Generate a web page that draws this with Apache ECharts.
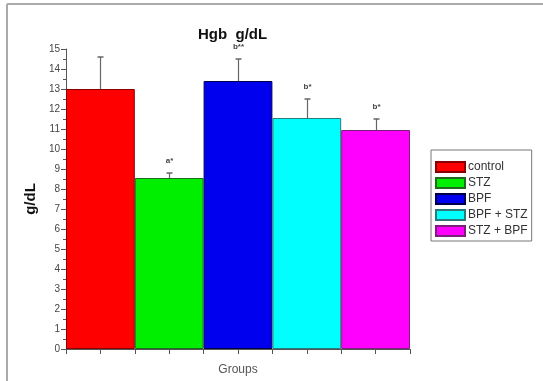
<!DOCTYPE html>
<html><head><meta charset="utf-8">
<script src="https://cdn.jsdelivr.net/npm/echarts@6/dist/echarts.min.js"></script>
<style>html,body{margin:0;padding:0;background:#fff}#c{width:543px;height:381px}</style>
</head><body><div id="c"></div>
<script>
var categories = ['control', 'STZ', 'BPF', 'BPF + STZ', 'STZ + BPF'];
var means = [13.0, 8.55, 13.4, 11.55, 10.95];
var upper = [14.6, 8.8, 14.5, 12.5, 11.5];
var sigLabels = ['', 'a*', 'b**', 'b*', 'b*'];
var yTicks = [0, 15, 1];
var colors = ['#ff0000', '#00ee00', '#0000ee', '#00ffff', '#ff00ff'];
var borders = ['#8a0000', '#1f6a1f', '#00004a', '#2a7a7a', '#7a207a'];

var chart = echarts.init(document.getElementById('c'));
var series = categories.map(function (name, i) {
  return {
    name: name, type: 'bar', stack: 'all', barCategoryGap: 0,
    itemStyle: { color: colors[i], borderColor: borders[i], borderWidth: 1 },
    data: categories.map(function (c, j) { return j === i ? means[j] : '-'; }),
    silent: true
  };
});
series.push({
  type: 'custom', silent: true, z: 10,
  data: categories.map(function (c, i) { return [i, means[i], upper[i], sigLabels[i]]; }),
  renderItem: function (params, api) {
    var i = api.value(0);
    var p0 = api.coord([i, api.value(1)]);
    var p1 = api.coord([i, api.value(2)]);
    var x = Math.round(p0[0]) + 0.5;
    var children = [
      { type: 'line', shape: { x1: x, y1: p0[1], x2: x, y2: p1[1] }, style: { stroke: '#666', lineWidth: 1.2 } },
      { type: 'line', shape: { x1: x - 3, y1: p1[1], x2: x + 3, y2: p1[1] }, style: { stroke: '#666', lineWidth: 1.5 } }
    ];
    var lab = sigLabels[params.dataIndex];
    if (lab) {
      children.push({ type: 'text', style: { text: lab, x: x, y: p1[1] - 8, align: 'center', verticalAlign: 'bottom',
        font: 'bold 8px Arial', fill: '#444' } });
    }
    return { type: 'group', children: children };
  }
});

chart.setOption({
  animation: false,
  title: { text: 'Hgb  g/dL', left: 193, top: 22,
    textStyle: { fontFamily: 'Liberation Sans, Arial', fontWeight: 'bold', fontSize: 15, color: '#111' } },
  grid: { left: 66, right: 133, top: 49, bottom: 28.5 },
  legend: {
    orient: 'vertical', left: 431, top: 150,
    data: categories,
    padding: [11, 4, 4, 4], itemGap: 4, itemWidth: 29, itemHeight: 10,
    borderColor: '#777', borderWidth: 1, icon: 'rect',
    textStyle: { fontFamily: 'Liberation Sans, Arial', fontSize: 12, color: '#333', padding: [0, 0, 0, -2] }
  },
  xAxis: [{
    type: 'category', data: categories, position: 'bottom',
    name: 'Groups', nameLocation: 'middle', nameGap: 15,
    nameTextStyle: { fontFamily: 'Liberation Sans, Arial', fontSize: 12, color: '#555' },
    axisLine: { lineStyle: { color: '#555' } },
    axisTick: { show: true, interval: 0, length: 5, alignWithLabel: false, lineStyle: { color: '#555' } },
    axisLabel: { show: false, interval: 0 }
  }, {
    type: 'category', data: categories, position: 'bottom',
    axisLine: { show: false },
    axisTick: { show: true, interval: 0, length: 5, alignWithLabel: true, lineStyle: { color: '#555' } },
    axisLabel: { show: false, interval: 0 }
  }],
  yAxis: {
    type: 'value', min: yTicks[0], max: yTicks[1], interval: yTicks[2],
    name: 'g/dL', nameLocation: 'middle', nameGap: 26,
    nameTextStyle: { fontFamily: 'Liberation Sans, Arial', fontWeight: 'bold', fontSize: 15, color: '#111' },
    axisLine: { show: true, lineStyle: { color: '#555' } },
    axisTick: { show: true, length: 5, lineStyle: { color: '#555' } },
    minorTick: { show: true, splitNumber: 2, length: 3, lineStyle: { color: '#555' } },
    splitLine: { show: false },
    axisLabel: { fontFamily: 'Liberation Sans, Arial', fontSize: 10, color: '#444', margin: 6 }
  },
  graphic: [
    { type: 'line', shape: { x1: 7, y1: 4, x2: 543, y2: 4 }, style: { stroke: '#aaa', lineWidth: 2 } },
    { type: 'line', shape: { x1: 7, y1: 4, x2: 7, y2: 381 }, style: { stroke: '#aaa', lineWidth: 2 } }
  ],
  series: series
});
</script></body></html>
